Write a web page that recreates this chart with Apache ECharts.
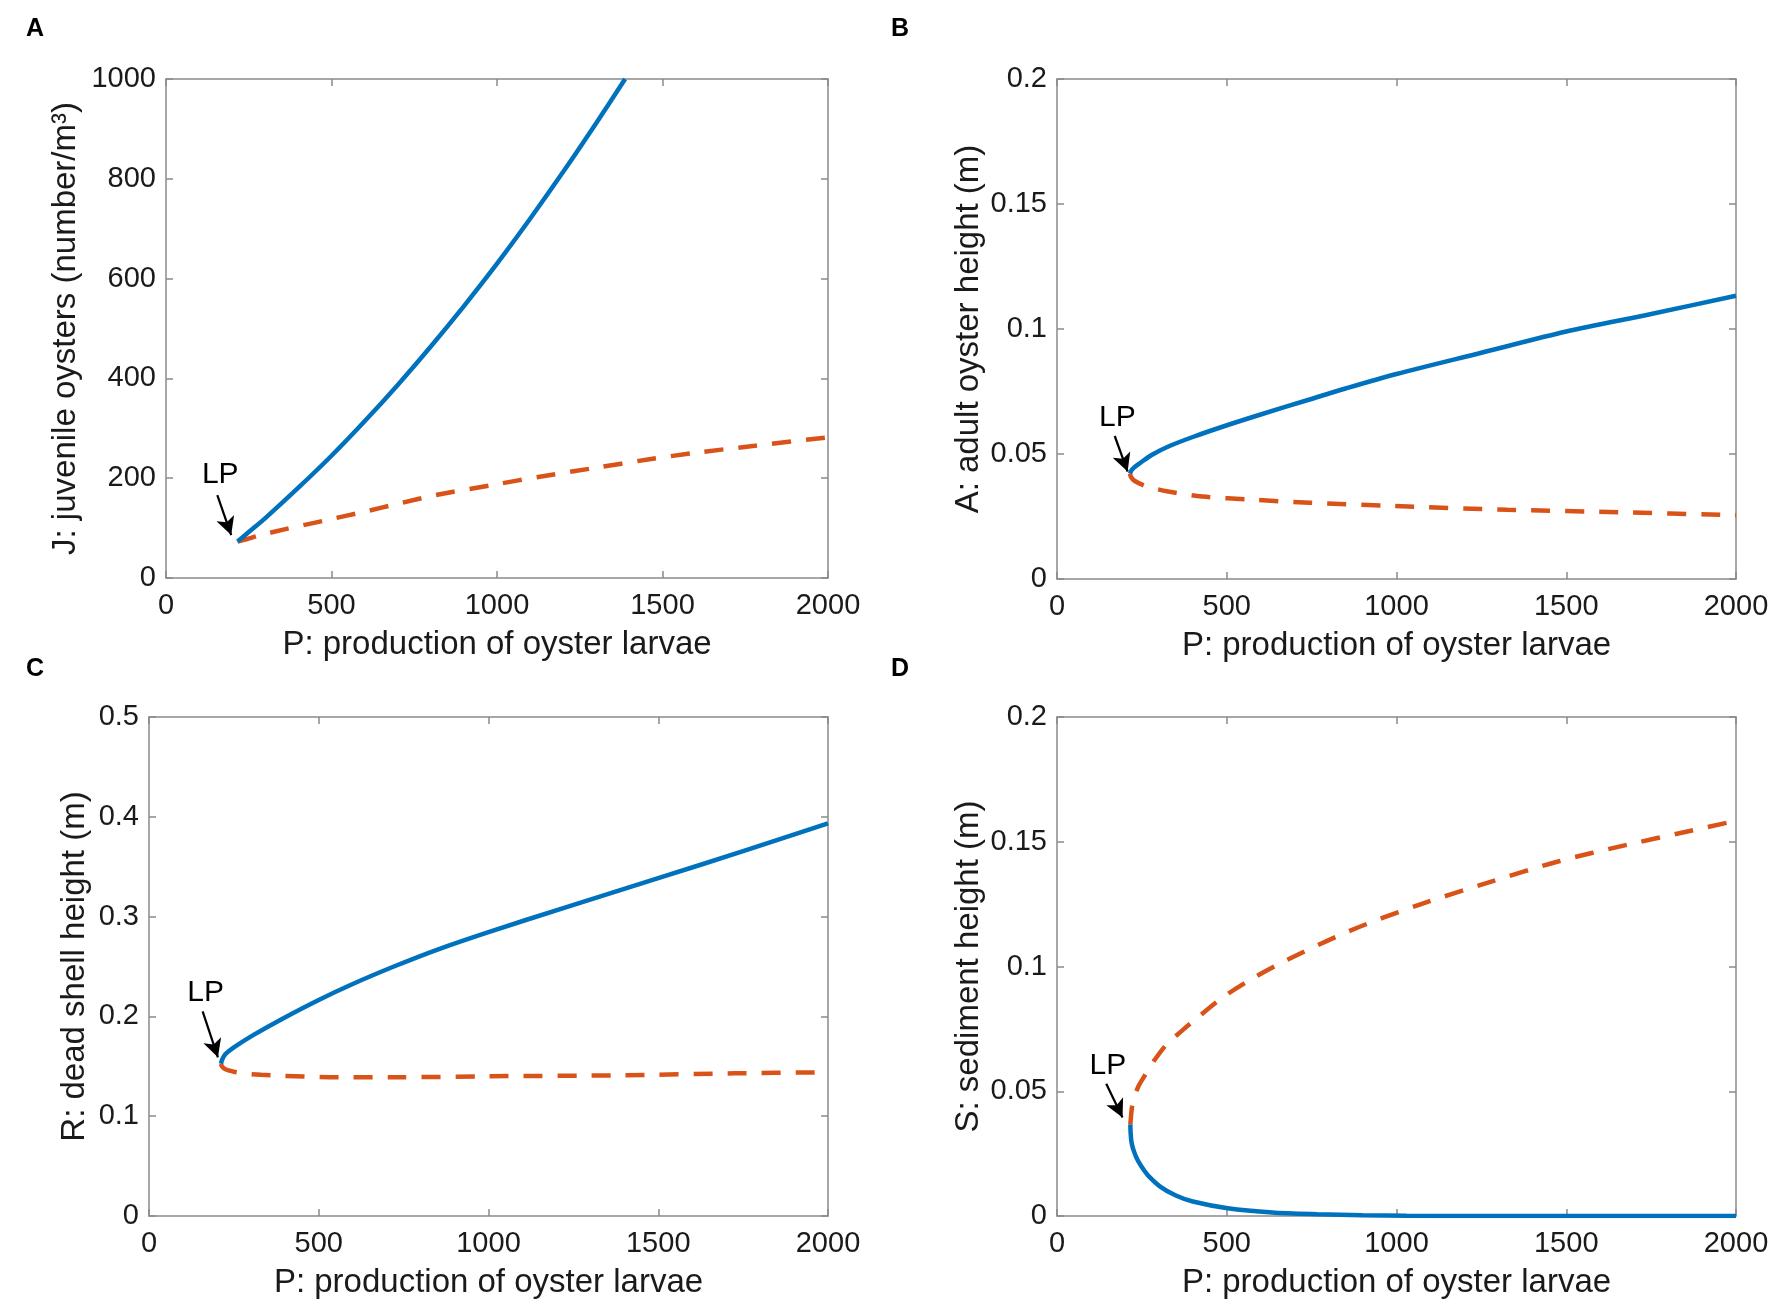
<!DOCTYPE html>
<html>
<head>
<meta charset="utf-8">
<script src="https://cdn.jsdelivr.net/npm/echarts@6/dist/echarts.min.js"></script>
<style>
html,body{margin:0;padding:0;background:#fff;}
#chart{width:1772px;height:1307px;}
</style>
</head>
<body>
<div id="chart"></div>
<script>
// ---------- data ----------
const xTicks = [0, 500, 1000, 1500, 2000];

// Panel A: J juvenile oysters
const pA_stable = [216, 250, 300, 400, 500, 600, 700, 800, 900, 1000, 1100, 1200, 1300, 1387];
const jA_stable = [73, 92, 120, 181, 245, 314, 387, 464, 545, 630, 720, 814, 912, 1000];
const pA_unstable = [216, 240, 280, 361, 499, 600, 709, 814, 1000, 1129, 1300, 1451, 1600, 1779, 2000];
const jA_unstable = [73, 77, 85, 98, 118, 133, 150, 166, 188, 203, 221, 237, 251, 265, 282];

// Panel B: A adult oyster height
const pB_stable = [215, 220, 228, 245, 280, 328, 400, 494, 600, 744, 850, 1000, 1250, 1500, 1750, 2000];
const aB_stable = [0.0422, 0.0436, 0.0447, 0.0464, 0.0497, 0.0530, 0.0568, 0.0612, 0.0658, 0.0718, 0.0762, 0.0820, 0.0905, 0.0990, 0.1060, 0.1133];
const pB_unstable = [215, 218, 228, 261, 328, 428, 577, 744, 993, 1326, 1659, 2000];
const aB_unstable = [0.0422, 0.0408, 0.0393, 0.0372, 0.035, 0.033, 0.0317, 0.0305, 0.0292, 0.0277, 0.0267, 0.0255];

// Panel C: R dead shell height
const pC_stable = [212, 214, 218, 225, 250, 308, 392, 500, 600, 725, 850, 1000, 1225, 1500, 1750, 2000];
const rC_stable = [0.1525, 0.1553, 0.1585, 0.1623, 0.1690, 0.1815, 0.1975, 0.2165, 0.2325, 0.2505, 0.2670, 0.2845, 0.3090, 0.3385, 0.3655, 0.3935];
const pC_unstable = [212, 215, 225, 250, 275, 330, 392, 558, 725, 1000, 1392, 1725, 2000];
const rC_unstable = [0.1525, 0.150, 0.147, 0.1445, 0.143, 0.1415, 0.1405, 0.139, 0.139, 0.140, 0.141, 0.143, 0.144];

// Panel D: S sediment height
const pD_stable = [216, 217, 219, 222, 226, 232, 240, 253, 270, 305, 350, 400, 503, 634, 766, 900, 1029, 1200, 1500, 2000];
const sD_stable = [0.0367, 0.0330, 0.0300, 0.0280, 0.0262, 0.0240, 0.0218, 0.0190, 0.0160, 0.0117, 0.0082, 0.0058, 0.0031, 0.0014, 0.0007, 0.0003, 0.0001, 0, 0, 0];
const pD_unstable = [216, 218, 221, 226, 240, 259, 290, 325, 370, 404, 489, 582, 674, 864, 1066, 1272, 1476, 1680, 1850, 2000];
const sD_unstable = [0.0367, 0.0400, 0.0437, 0.0470, 0.0520, 0.0564, 0.0630, 0.0691, 0.0745, 0.0784, 0.0877, 0.0957, 0.1024, 0.1144, 0.1247, 0.1337, 0.1421, 0.1488, 0.1539, 0.1584];

// LP annotations (data coordinates): label centre, arrow start, arrow tip
const lpA = { label: [164, 206], from: [155, 166], to: [197, 86] };
const lpB = { label: [178, 0.0647], from: [170, 0.0572], to: [208, 0.043] };
const lpC = { label: [167, 0.2235], from: [158, 0.205], to: [203, 0.159] };
const lpD = { label: [150, 0.0604], from: [145, 0.053], to: [193, 0.0395] };

const panelLetters = ['A', 'B', 'C', 'D'];
const yNames = [
  'J: juvenile oysters (number/m\u00B3)',
  'A: adult oyster height (m)',
  'R: dead shell height (m)',
  'S: sediment height (m)'
];
const xName = 'P: production of oyster larvae';
const yRanges = [[0, 1000, 200], [0, 0.2, 0.05], [0, 0.5, 0.1], [0, 0.2, 0.05]];

// ---------- layout / style ----------
const FONT = 'Liberation Sans, Arial, Helvetica, sans-serif';
const TXT = '#1a1a1a';
const AXC = '#8a8a8a';
const BLUE = '#0072BD';
const ORANGE = '#D95319';

const grids = [
  { left: 166, top: 79, width: 662, height: 499 },
  { left: 1057, top: 79, width: 679, height: 500 },
  { left: 149, top: 717, width: 679, height: 499 },
  { left: 1057, top: 717, width: 679, height: 499 }
];
const yNameGaps = [84, 72, 58, 72];
const letterPos = [[21, 12], [886, 12], [21, 652], [886, 652]];

const zip = (xs, ys) => xs.map((x, i) => [x, ys[i]]);
const panels = [
  { st: zip(pA_stable, jA_stable), un: zip(pA_unstable, jA_unstable), lp: lpA },
  { st: zip(pB_stable, aB_stable), un: zip(pB_unstable, aB_unstable), lp: lpB },
  { st: zip(pC_stable, rC_stable), un: zip(pC_unstable, rC_unstable), lp: lpC },
  { st: zip(pD_stable, sD_stable), un: zip(pD_unstable, sD_unstable), lp: lpD }
];
const plainNum = v => String(Math.round(v * 10000) / 10000);

const xAxes = [], yAxes = [], series = [], titles = [];
panels.forEach((p, i) => {
  const axisLine = { show: true, onZero: false, lineStyle: { color: AXC, width: 1.5 } };
  const tick = { show: true, inside: true, length: 7, lineStyle: { color: AXC, width: 1.5 } };
  xAxes.push({
    gridIndex: i, type: 'value', min: xTicks[0], max: xTicks[xTicks.length - 1], interval: 500,
    position: 'bottom', axisLine, axisTick: tick, splitLine: { show: false },
    axisLabel: { fontSize: 29, color: TXT, fontFamily: FONT, margin: 13, formatter: plainNum },
    name: xName, nameLocation: 'middle', nameGap: 50,
    nameTextStyle: { fontSize: 33, color: TXT, fontFamily: FONT }
  });
  xAxes.push({
    gridIndex: i, type: 'value', min: xTicks[0], max: xTicks[xTicks.length - 1], interval: 500,
    position: 'top', axisLine, axisTick: tick, splitLine: { show: false }, axisLabel: { show: false }
  });
  const yr = yRanges[i];
  yAxes.push({
    gridIndex: i, type: 'value', min: yr[0], max: yr[1], interval: yr[2],
    position: 'left', axisLine, axisTick: tick, splitLine: { show: false },
    axisLabel: { fontSize: 29, color: TXT, fontFamily: FONT, margin: 10, formatter: plainNum },
    name: yNames[i], nameLocation: 'middle', nameGap: yNameGaps[i],
    nameTextStyle: { fontSize: 33, color: TXT, fontFamily: FONT }
  });
  yAxes.push({
    gridIndex: i, type: 'value', min: yr[0], max: yr[1], interval: yr[2],
    position: 'right', axisLine, axisTick: tick, splitLine: { show: false }, axisLabel: { show: false }
  });
  const xi = i * 2, yi = i * 2;
  series.push({
    type: 'line', xAxisIndex: xi, yAxisIndex: yi, data: p.un, showSymbol: false,
    smooth: 0.3, clip: true, z: 3,
    lineStyle: { color: ORANGE, width: 4.5, type: [19, 15], cap: 'butt' }
  });
  series.push({
    type: 'line', xAxisIndex: xi, yAxisIndex: yi, data: p.st, showSymbol: false,
    smooth: 0.3, clip: true, z: 4,
    lineStyle: { color: BLUE, width: 4.5 },
    markLine: {
      silent: true, symbol: ['none', 'arrow'], symbolSize: [14, 18],
      label: { show: false },
      lineStyle: { color: '#000', width: 2.2, type: 'solid' },
      data: [[{ coord: p.lp.from }, { coord: p.lp.to }]],
      animation: false
    },
    markPoint: {
      silent: true, symbol: 'circle', symbolSize: 0,
      label: { show: true, position: 'inside', formatter: 'LP', fontSize: 30, color: '#000', fontFamily: FONT },
      data: [{ coord: p.lp.label }],
      animation: false
    }
  });
  titles.push({
    text: panelLetters[i], left: letterPos[i][0], top: letterPos[i][1],
    textStyle: { fontSize: 25, fontWeight: 'bold', color: '#000', fontFamily: FONT }
  });
});

const chart = echarts.init(document.getElementById('chart'), null, { renderer: 'canvas' });
chart.setOption({
  backgroundColor: '#fff',
  animation: false,
  title: titles,
  grid: grids,
  xAxis: xAxes,
  yAxis: yAxes,
  series: series
});
</script>
</body>
</html>
